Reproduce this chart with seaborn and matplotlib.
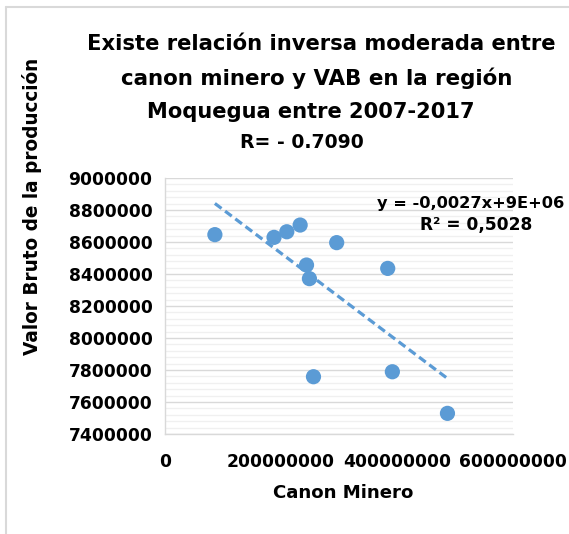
import numpy as np
import pandas as pd
import matplotlib
matplotlib.use("Agg")
import matplotlib.pyplot as plt
from matplotlib.ticker import MultipleLocator, FuncFormatter
from matplotlib.lines import Line2D
import seaborn as sns

# Data, 2007-2017
canon_minero = [86e6, 188e6, 210e6, 233e6, 296e6, 244e6, 249e6, 384e6, 256e6, 392e6, 487e6]
vab = [8646000, 8629000, 8664000, 8706000, 8596000, 8456000, 8371000, 8435000, 7758000, 7789000, 7529000]

title_lines = ["Existe relación inversa moderada entre",
               "canon minero y VAB en la región",
               "Moquegua entre 2007-2017",
               "R= - 0.7090"]
x_label = "Canon Minero"
y_label = "Valor Bruto de la producción"
eq_text = "y = -0,0027x+9E+06"
r2_text = "R² = 0,5028"
x_ticks = [0, 200000000, 400000000, 600000000]
y_ticks = [7400000, 7600000, 7800000, 8000000, 8200000, 8400000, 8600000, 8800000, 9000000]

df = pd.DataFrame({"canon": canon_minero, "vab": vab})

sns.set_theme(style="white")
plt.rcParams['font.family'] = ['DejaVu Sans']
plt.rcParams['font.weight'] = 'bold'
plt.rcParams['text.color'] = 'black'
plt.rcParams['axes.labelcolor'] = 'black'
plt.rcParams['xtick.color'] = 'black'
plt.rcParams['ytick.color'] = 'black'

W, H = 569, 534
blue = "#5B9BD5"
fig = plt.figure(figsize=(W/100, H/100), dpi=100)
fig.patch.set_facecolor("white")
fig.patch.set_edgecolor("none")
fig.patch.set_linewidth(0)
ax = fig.add_axes([165/W, 1-434/H, (513-165)/W, (434-178)/H])

sns.regplot(data=df, x="canon", y="vab", ax=ax, ci=None,
            scatter_kws=dict(s=120, color=blue, edgecolor="none", alpha=1, zorder=3),
            line_kws=dict(color=blue, lw=2.3, ls=(0, (2.6, 1.4)), zorder=2))

ax.set_xlim(0, 6e8)
ax.set_ylim(7400000, 9000000)
ax.set_xticks(x_ticks)
ax.set_yticks(y_ticks)
ax.yaxis.set_minor_locator(MultipleLocator(40000))
fmt = FuncFormatter(lambda v, p: f"{int(round(v))}")
ax.xaxis.set_major_formatter(fmt)
ax.yaxis.set_major_formatter(fmt)
ax.grid(True, which="major", axis="y", color="#D9D9D9", lw=1.0, zorder=0)
ax.grid(True, which="minor", axis="y", color="#F0F0F0", lw=1.0, zorder=0)
ax.set_axisbelow(True)
for s in ["top", "right"]:
    ax.spines[s].set_visible(False)
for s in ["left", "bottom"]:
    ax.spines[s].set_color("#D9D9D9")
    ax.spines[s].set_linewidth(1.0)
ax.tick_params(axis="both", which="major", direction="out", length=5, width=1,
               color="#D9D9D9", labelsize=12.3, labelcolor="black")
ax.tick_params(axis="y", which="major", pad=4)
ax.tick_params(axis="x", which="major", pad=9)
ax.tick_params(axis="y", which="minor", length=0)
for lab in ax.get_xticklabels() + ax.get_yticklabels():
    lab.set_fontweight("bold")
ax.set_xlabel("")
ax.set_ylabel("")

texts = []
def put(x, y, s, target_w, size, **kw):
    t = fig.text(x/W, 1-y/H, s, fontsize=size, fontweight="bold", color="black", **kw)
    texts.append((t, target_w))
    return t

put(321, 50, title_lines[0], 472, 15, ha="center", va="baseline")
put(317, 85, title_lines[1], 393, 15, ha="center", va="baseline")
put(311, 118, title_lines[2], 328, 15, ha="center", va="baseline")
put(302, 148, title_lines[3], 124, 15, ha="center", va="baseline")
put(343, 498, x_label, 141, 12, ha="center", va="baseline")
put(32, 206, y_label, 298, 12, ha="center", va="center", rotation=90)
put(564, 208, eq_text, 187, 12, ha="right", va="baseline")
put(532, 230, r2_text, 112, 12, ha="right", va="baseline")

# fit text sizes to the widths measured on the reference
fig.canvas.draw()
r = fig.canvas.get_renderer()
for t, tw in texts:
    bb = t.get_window_extent(r)
    w = bb.height if t.get_rotation() == 90 else bb.width
    t.set_fontsize(t.get_fontsize() * tw / w)

fig.add_artist(Line2D([6/W, 6/W], [0, 1-7/H], transform=fig.transFigure, color="#D9D9D9", lw=1.5))
fig.add_artist(Line2D([6/W, 1], [1-7/H, 1-7/H], transform=fig.transFigure, color="#D9D9D9", lw=1.5))

fig.savefig("out.png", dpi=100)
